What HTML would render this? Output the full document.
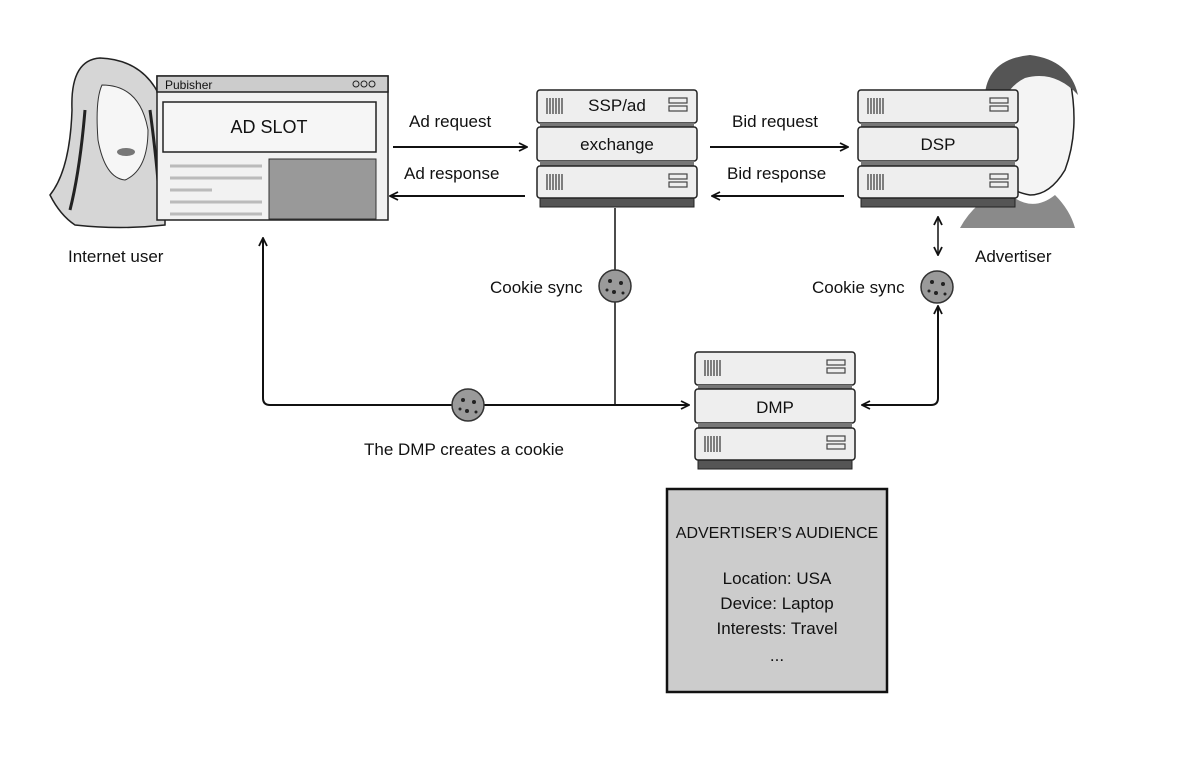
<!DOCTYPE html>
<html><head><meta charset="utf-8"><style>
html,body{margin:0;padding:0;background:#fff}
svg{display:block}
text{font-family:"Comic Sans MS","Liberation Sans",sans-serif;fill:#111}
</style></head><body>
<svg width="1200" height="771" viewBox="0 0 1200 771" xmlns="http://www.w3.org/2000/svg">
<defs>
<g id="srv">
  <rect x="3" y="106" width="154" height="11" fill="#555" stroke="#222"/>
  <rect x="0" y="0" width="160" height="33" rx="3" fill="#eee" stroke="#222" stroke-width="1.5"/>
  <rect x="3" y="33" width="154" height="5" fill="#777"/>
  <rect x="0" y="37" width="160" height="34" rx="3" fill="#eee" stroke="#222" stroke-width="1.5"/>
  <rect x="3" y="71" width="154" height="5" fill="#777"/>
  <rect x="0" y="76" width="160" height="32" rx="3" fill="#eee" stroke="#222" stroke-width="1.5"/>
  <g stroke="#333" stroke-width="1.2">
    <path d="M10 8v16M13 8v16M16 8v16M19 8v16M22 8v16M25 8v16M10 84v16M13 84v16M16 84v16M19 84v16M22 84v16M25 84v16"/>
  </g>
  <g fill="none" stroke="#444" stroke-width="1.2">
    <rect x="132" y="8" width="18" height="5"/><rect x="132" y="16" width="18" height="5"/>
    <rect x="132" y="84" width="18" height="5"/><rect x="132" y="92" width="18" height="5"/>
  </g>
</g>
<g id="cookie">
  <circle r="16" fill="#9a9a9a" stroke="#333" stroke-width="1.5"/>
  <circle cx="-5" cy="-5" r="2" fill="#222"/><circle cx="6" cy="-3" r="2" fill="#222"/>
  <circle cx="-1" cy="6" r="2" fill="#222"/><circle cx="-8" cy="4" r="1.5" fill="#222"/>
  <circle cx="8" cy="7" r="1.5" fill="#222"/>
</g>
<marker id="ah" viewBox="0 0 10 10" refX="9" refY="5" markerWidth="10" markerHeight="10" orient="auto-start-reverse" markerUnits="userSpaceOnUse">
  <path d="M1 1L9 5L1 9" fill="none" stroke="#111" stroke-width="1.8"/>
</marker>
</defs>

<!-- woman -->
<path d="M100 58 Q70 60 72 110 Q70 170 50 195 Q60 215 75 225 Q120 230 165 225 L165 110 Q150 60 100 58Z" fill="#d6d6d6" stroke="#222" stroke-width="1.5"/>
<path d="M102 85 Q140 85 148 130 Q148 170 125 180 Q105 178 98 140 Q95 100 102 85Z" fill="#f6f6f6" stroke="#333"/>
<path d="M85 110 Q80 170 70 210 M150 110 Q158 170 160 210" stroke="#222" stroke-width="3" fill="none"/>
<ellipse cx="126" cy="152" rx="9" ry="4" fill="#777"/>
<text x="68" y="262" font-size="17">Internet user</text>

<!-- publisher window -->
<rect x="157" y="76" width="231" height="144" fill="#f2f2f2" stroke="#222" stroke-width="1.5"/>
<rect x="157" y="76" width="231" height="16" fill="#ccc" stroke="#222" stroke-width="1.5"/>
<text x="165" y="89" font-size="12">Pubisher</text>
<circle cx="356" cy="84" r="3" fill="none" stroke="#222"/><circle cx="364" cy="84" r="3" fill="none" stroke="#222"/><circle cx="372" cy="84" r="3" fill="none" stroke="#222"/>
<rect x="163" y="102" width="213" height="50" fill="#f6f6f6" stroke="#222" stroke-width="1.5"/>
<text x="269" y="133" font-size="18" text-anchor="middle">AD SLOT</text>
<g stroke="#bbb" stroke-width="3"><path d="M170 166H262M170 178H262M170 190H212M170 202H262M170 214H262"/></g>
<rect x="269" y="159" width="107" height="60" fill="#999" stroke="#333"/>

<!-- man (behind DSP) -->
<path d="M990 80 Q1030 45 1070 80 Q1080 130 1065 170 Q1050 195 1030 195 Q1000 190 990 160 Q980 120 990 80Z" fill="#f4f4f4" stroke="#222" stroke-width="1.5"/>
<path d="M985 110 Q980 60 1030 55 Q1070 60 1078 95 Q1055 70 1025 78 Q1000 90 995 130Z" fill="#555"/>
<path d="M960 228 Q975 200 1005 190 Q1030 215 1055 195 Q1070 210 1075 228Z" fill="#8a8a8a"/>

<!-- servers -->
<use href="#srv" x="537" y="90"/>
<text x="617" y="111" font-size="17" text-anchor="middle">SSP/ad</text>
<text x="617" y="150" font-size="17" text-anchor="middle">exchange</text>
<use href="#srv" x="858" y="90"/>
<text x="938" y="150" font-size="17" text-anchor="middle">DSP</text>
<text x="975" y="262" font-size="17">Advertiser</text>

<use href="#srv" x="695" y="352"/>
<text x="775" y="413" font-size="17" text-anchor="middle">DMP</text>

<!-- audience box -->
<rect x="667" y="489" width="220" height="203" fill="#ccc" stroke="#111" stroke-width="2.5"/>
<g font-size="17" text-anchor="middle">
<text x="777" y="538" font-size="16">ADVERTISER’S AUDIENCE</text>
<text x="777" y="584">Location: USA</text>
<text x="777" y="609">Device: Laptop</text>
<text x="777" y="634">Interests: Travel</text>
<text x="777" y="661">...</text>
</g>

<!-- connectors -->
<g stroke="#111" stroke-width="2" fill="none">
<path d="M393 147H527" marker-end="url(#ah)"/>
<path d="M525 196H390" marker-end="url(#ah)"/>
<path d="M710 147H848" marker-end="url(#ah)"/>
<path d="M844 196H712" marker-end="url(#ah)"/>
<path d="M615 208V405" stroke-width="1.5"/>
<path d="M263 238V398Q263 405 270 405H689" marker-start="url(#ah)" marker-end="url(#ah)"/>
<path d="M938 217V255" marker-start="url(#ah)" marker-end="url(#ah)" stroke-width="1.5"/>
<path d="M938 306V398Q938 405 931 405H862" marker-start="url(#ah)" marker-end="url(#ah)"/>
</g>
<g font-size="17">
<text x="409" y="127">Ad request</text>
<text x="404" y="179">Ad response</text>
<text x="732" y="127">Bid request</text>
<text x="727" y="179">Bid response</text>
<text x="490" y="293">Cookie sync</text>
<text x="812" y="293">Cookie sync</text>
<text x="364" y="455">The DMP creates a cookie</text>
</g>
<use href="#cookie" x="615" y="286"/>
<use href="#cookie" x="937" y="287"/>
<use href="#cookie" x="468" y="405"/>
</svg>
</body></html>
